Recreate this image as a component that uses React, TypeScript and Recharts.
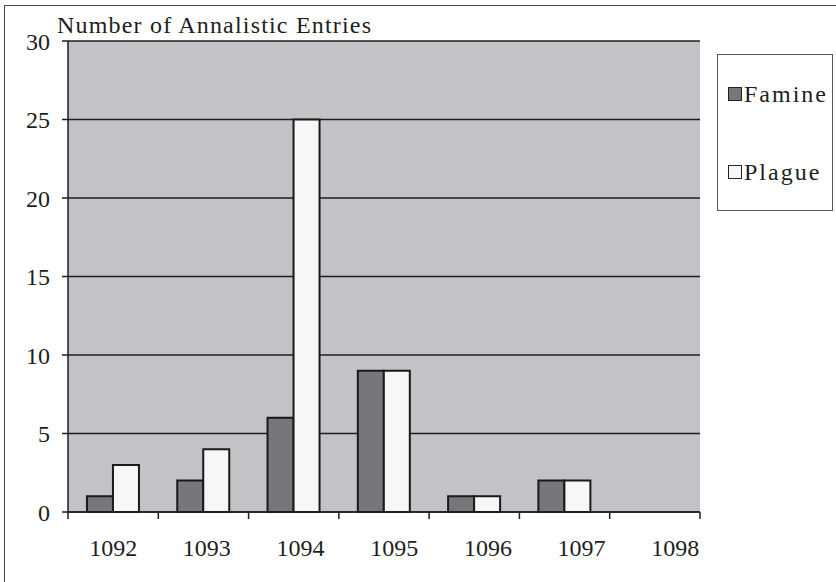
import { Bar, BarChart, CartesianGrid, Legend, XAxis, YAxis } from "recharts"

// Annalistic entries per year, famine vs plague.
const years = ["1092", "1093", "1094", "1095", "1096", "1097", "1098"]
const famine = [1, 2, 6, 9, 1, 2, 0]
const plague = [3, 4, 25, 9, 1, 2, 0]
const yTicks = [0, 5, 10, 15, 20, 25, 30]

const data = years.map((year, i) => ({ year, famine: famine[i], plague: plague[i] }))

const FONT = "Liberation Serif"
const INK = "#1e1e1e"

// Category tick: the tick marks sit on the band edges, not the centres.
function YearTick(props: any) {
  const { x, y, payload, index, visibleTicksCount } = props
  const half = payload.offset ?? 0
  const last = index === visibleTicksCount - 1
  return (
    <g>
      <line x1={x - half} x2={x - half} y1={y - 7} y2={y} stroke={INK} strokeWidth={1.5} />
      {last && <line x1={x + half} x2={x + half} y1={y - 7} y2={y} stroke={INK} strokeWidth={1.5} />}
      <text
        x={x + index * 3.4}
        y={y + 37}
        textAnchor="middle"
        style={{ fontFamily: FONT, fontSize: 24 }}
        fill={INK}
      >
        {payload.value}
      </text>
    </g>
  )
}

function LegendBox({ payload }: any) {
  return (
    <div
      style={{
        width: 114,
        height: 155,
        border: "1.5px solid #555",
        background: "#fff",
        position: "relative",
        fontFamily: FONT,
        fontSize: 24,
        color: INK,
      }}
    >
      {(payload || []).map((p: any, i: number) => (
        <div
          key={p.value}
          style={{
            position: "absolute",
            left: 10,
            top: 26 + i * 78,
            display: "flex",
            alignItems: "center",
            whiteSpace: "nowrap",
          }}
        >
          <span
            style={{
              width: 12,
              height: 12,
              background: p.color,
              border: "1.5px solid #222",
              display: "inline-block",
              marginRight: 2,
            }}
          />
          <span style={{ lineHeight: "26px", letterSpacing: 2 }}>{p.value}</span>
        </div>
      ))}
    </div>
  )
}

export default function App() {
  return (
    <div
      style={{
        position: "fixed",
        left: 0,
        top: 0,
        width: 836,
        height: 582,
        background: "#fff",
        overflow: "hidden",
        fontFamily: FONT,
      }}
    >
      <div
        style={{
          position: "absolute",
          left: 4,
          top: 5,
          width: 900,
          height: 700,
          borderLeft: "1.5px solid #444",
          borderTop: "1.5px solid #444",
        }}
      />
      <div style={{ position: "absolute", left: 0, top: 0 }}>
        <BarChart
          width={836}
          height={582}
          data={data}
          margin={{ top: 41, right: 136, left: 8, bottom: 40 }}
          barCategoryGap="21%"
          barGap={0}
          style={{ fontFamily: FONT }}
        >
          <CartesianGrid
            yAxisId="left"
            vertical={false}
            stroke={INK}
            strokeWidth={1.5}
            fill="#c2c3c7"
            fillOpacity={1}
          />
          <XAxis
            dataKey="year"
            height={30}
            tickLine={false}
            tickSize={7}
            tickMargin={0}
            interval={0}
            axisLine={{ stroke: INK, strokeWidth: 1.5 }}
            tick={<YearTick />}
          />
          <YAxis
            yAxisId="left"
            width={60}
            domain={[0, 30]}
            ticks={yTicks}
            tickSize={6}
            tickMargin={12}
            axisLine={{ stroke: INK, strokeWidth: 1.5 }}
            tickLine={{ stroke: INK, strokeWidth: 1.5 }}
            tick={{ fontFamily: FONT, fontSize: 24, fill: INK }}
          />
          <YAxis
            yAxisId="right"
            orientation="right"
            width={0}
            domain={[0, 30]}
            tick={false}
            tickLine={false}
            axisLine={{ stroke: "#666", strokeWidth: 1.5 }}
          />
          <Legend
            layout="horizontal"
            verticalAlign="middle"
            align="center"
            content={<LegendBox />}
            wrapperStyle={{ left: 717, top: 54, width: 118, height: 158 }}
          />
          <Bar
            yAxisId="left"
            dataKey="famine"
            name="Famine"
            fill="#76777b"
            stroke="#1a1a1a"
            strokeWidth={2}
            isAnimationActive={false}
          />
          <Bar
            yAxisId="left"
            dataKey="plague"
            name="Plague"
            fill="#f7f7f7"
            stroke="#1a1a1a"
            strokeWidth={2}
            isAnimationActive={false}
          />
        </BarChart>
      </div>
      <svg style={{ position: "absolute", left: 0, top: 0 }} width={836} height={60}>
        <text
          x={57}
          y={33}
          style={{ fontFamily: FONT, fontSize: 24 }}
          fill={INK}
          textLength={314}
          lengthAdjust="spacing"
        >
          Number of Annalistic Entries
        </text>
      </svg>
    </div>
  )
}
